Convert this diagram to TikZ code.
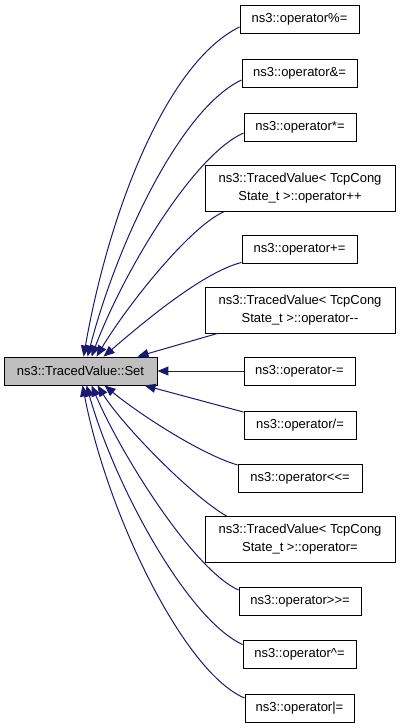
\documentclass[tikz,border=0pt]{standalone}
\usepackage{fontspec}
\setmainfont{Liberation Sans}
\usetikzlibrary{arrows.meta,calc}
\definecolor{edgeblue}{HTML}{191970}
\definecolor{setgray}{HTML}{BFBFBF}
\begin{document}
\begin{tikzpicture}[x=1pt,y=-1pt,
  box/.style={draw=black,line width=0.9pt,fill=white,inner sep=0pt,align=center,
    font=\fontsize{13}{18}\selectfont,minimum height=28pt},
  mainbox/.style={box,fill=setgray},
  edge/.style={draw=edgeblue,line width=1pt,-{Triangle[length=11pt,width=9pt]}}]
\useasboundingbox (0,0) rectangle (400,728);
\node[mainbox,minimum width=153pt] (main) at (80.5,371) {ns3::TracedValue::Set};
\node[box,minimum width=119pt] (n1) at (299.5,19.5) {ns3::operator\%=};
\node[box,minimum width=115pt] (n2) at (299.5,73) {ns3::operator\&=};
\node[box,minimum width=112pt] (n3) at (300,127) {ns3::operator*=};
\node[box,minimum width=190pt,minimum height=46pt] (n4) at (300,188) {ns3::TracedValue< TcpCong\\State\_t >::operator++};
\node[box,minimum width=115pt] (n5) at (299.5,249) {ns3::operator+=};
\node[box,minimum width=190pt,minimum height=46pt] (n6) at (300,310) {ns3::TracedValue< TcpCong\\State\_t >::operator-{}-};
\node[box,minimum width=111pt] (n7) at (299.5,371) {ns3::operator-=};
\node[box,minimum width=112pt] (n8) at (300,425.5) {ns3::operator/=};
\node[box,minimum width=124pt] (n9) at (300,478) {ns3::operator<{}<=};
\node[box,minimum width=190pt,minimum height=46pt] (n10) at (300,539.5) {ns3::TracedValue< TcpCong\\State\_t >::operator=};
\node[box,minimum width=122pt] (n11) at (300,601) {ns3::operator>{}>=};
\node[box,minimum width=113pt] (n12) at (299.5,654.5) {ns3::operator\^{}=};
\node[box,minimum width=109pt] (n13) at (299.5,708) {ns3::operator|=};
% edges
\draw[edge] ($(n1.west)+(0,7.5)$) .. controls +(-72,35) and +(26,-148) .. ($(main.north west)+(80,0)$);
\draw[edge] ($(n2.west)+(0,7)$) .. controls +(-60,28) and +(30,-115) .. ($(main.north west)+(84,0)$);
\draw[edge] ($(n3.west)+(0,6)$) .. controls +(-50,22) and +(32,-85) .. ($(main.north west)+(88,0)$);
\draw[edge] ($(n4.south west)+(20,0)$) .. controls +(-35,15) and +(30,-50) .. ($(main.north west)+(93,0)$);
\draw[edge] ($(n5.south west)+(0,-1)$) .. controls +(-40,10) and +(35,-30) .. ($(main.north west)+(100,0)$);
\draw[edge] ($(n6.south west)+(13,0)$) -- ($(main.north west)+(134,0)$);
\draw[edge] (n7.west) -- (main.east);
\draw[edge] ($(n8.north west)+(0,1)$) -- ($(main.south west)+(141,0)$);
\draw[edge] ($(n9.west)+(0,-13)$) .. controls +(-40,-12) and +(30,25) .. ($(main.south west)+(101,0)$);
\draw[edge] ($(n10.north west)+(22,0)$) .. controls +(-35,-20) and +(25,40) .. ($(main.south west)+(94,0)$);
\draw[edge] ($(n11.west)+(0,-11)$) .. controls +(-45,-20) and +(30,70) .. ($(main.south west)+(88,0)$);
\draw[edge] ($(n12.west)+(0,-10)$) .. controls +(-55,-25) and +(28,100) .. ($(main.south west)+(83,0)$);
\draw[edge] ($(n13.west)+(0,-10)$) .. controls +(-60,-25) and +(25,130) .. ($(main.south west)+(79,0)$);
\end{tikzpicture}
\end{document}
